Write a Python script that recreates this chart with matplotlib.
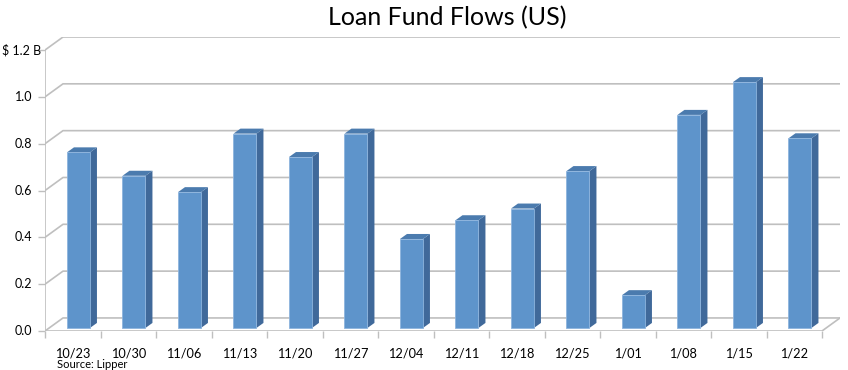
import matplotlib.pyplot as plt
from matplotlib.patches import Polygon

plt.rcParams['font.family'] = ['Lato', 'DejaVu Sans']

semanas = ['10/23', '10/30', '11/06', '11/13', '11/20', '11/27', '12/04',
           '12/11', '12/18', '12/25', '1/01', '1/08', '1/15', '1/22']
fluxos = [0.75, 0.65, 0.58, 0.83, 0.73, 0.83, 0.38,
          0.46, 0.51, 0.67, 0.14, 0.91, 1.05, 0.81]
ticks_y = [0.0, 0.2, 0.4, 0.6, 0.8, 1.0, 1.2]
rotulos_y = ['0.0', '0.2', '0.4', '0.6', '0.8', '1.0', '$ 1.2 B']

W, H = 848, 370
fig = plt.figure(figsize=(W / 100, H / 100), dpi=100)

# eixo em coordenadas do plano frontal
x0, x1 = 45, 840
ytop, ybot = 37, 331
ax = fig.add_axes([x0 / W, (H - ybot) / H, (x1 - x0) / W, (ybot - ytop) / H])

n = len(semanas)
dx, dy = 18 / 55.5, 13 / 233.3          # profundidade do "3D"
ax.set_xlim(0, n + dx)
ax.set_ylim(0, 1.2 + dy)
for s in ax.spines.values():
    s.set_visible(False)

cinza = '#BFBFBF'
# grade com perspectiva
for v in ticks_y:
    ax.plot([0, dx, n + dx], [v, v + dy, v + dy], color=cinza, lw=1.2, zorder=1)
ax.plot([0, 0], [0, 1.2], color=cinza, lw=1.2, zorder=1)
ax.plot([0, n, n + dx], [0, 0, dy], color=cinza, lw=1.2, zorder=1)

# barras
larg = 0.414
desl = 0.396
bx, by = 0.126, 0.0214
base = 0.013
frente = '#5E94CB'
lado = '#40699A'
topo = '#4B7BAE'
xs = [i + desl for i in range(n)]
ax.bar(xs, fluxos, width=larg, bottom=base, align='edge', color=frente,
       edgecolor='#8DB4DE', linewidth=0.6, zorder=3)
for x, v in zip(xs, fluxos):
    xr = x + larg
    yt = base + v
    ax.add_patch(Polygon([(xr, base), (xr, yt), (xr + bx, yt + by), (xr + bx, base + by)],
                         closed=True, facecolor=lado, edgecolor='none', zorder=2))
    ax.add_patch(Polygon([(x, yt), (xr, yt), (xr + bx, yt + by), (x + bx, yt + by)],
                         closed=True, facecolor=topo, edgecolor='none', zorder=2))

# ticks e rótulos
ax.set_yticks(ticks_y)
ax.set_yticklabels([])
ax.tick_params(axis='y', length=5, color=cinza, width=1)
for v, r in zip(ticks_y, rotulos_y):
    xoff = -4 if r.startswith('$') else -13
    ax.annotate(r, xy=(0, v), xycoords=('data', 'data'), xytext=(xoff, 0),
                textcoords='offset pixels', ha='right', va='center',
                fontsize=9, color='black')

ax.set_xticks([i + 0.5 for i in range(n)])
ax.set_xticklabels(semanas, fontsize=9.2)
ax.set_xticks(range(n + 1), minor=True)
ax.tick_params(axis='x', which='major', length=0, pad=12)
ax.tick_params(axis='x', which='minor', length=5, color=cinza, width=1)

fig.text(447 / W, 1 - 18 / H, 'Loan Fund Flows (US)', ha='center', va='center',
         fontsize=18)
fig.text(57 / W, 1 - 365 / H, 'Source: Lipper', ha='left', va='center', fontsize=8)

fig.savefig('out.png', dpi=100)
